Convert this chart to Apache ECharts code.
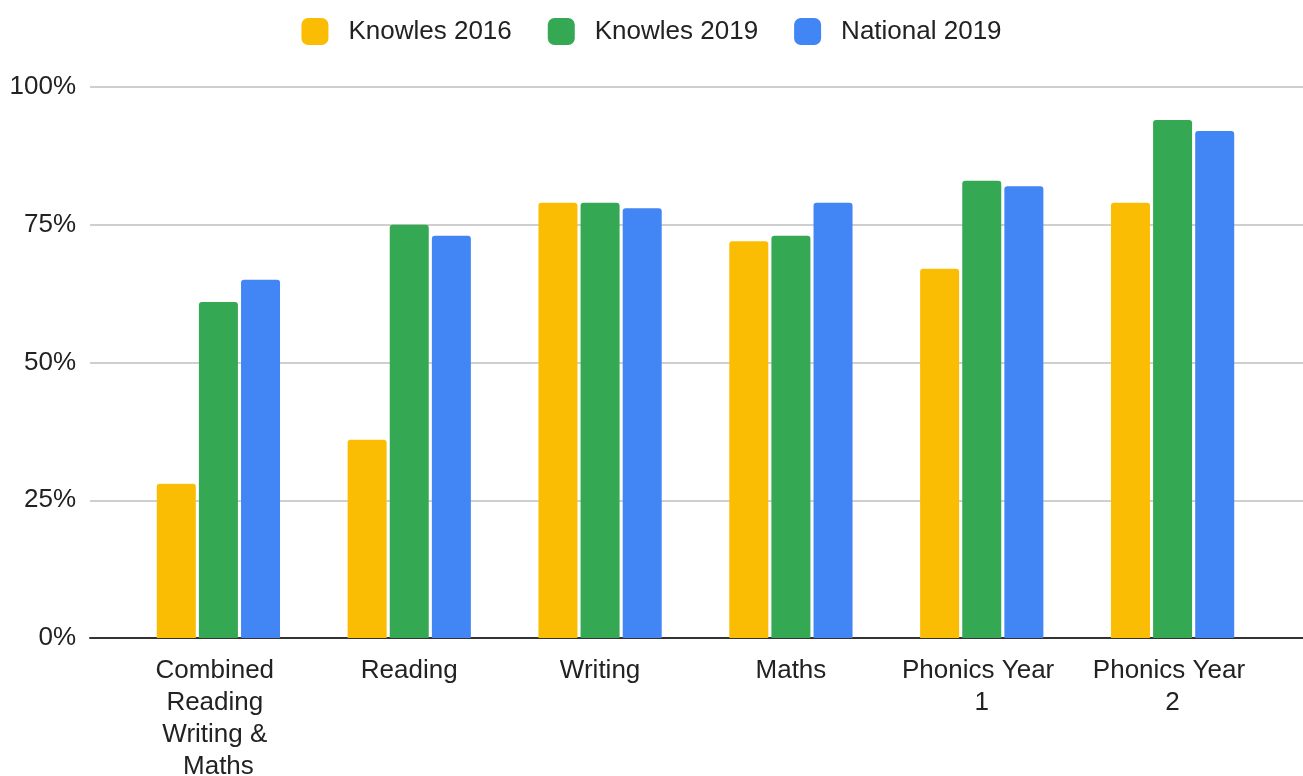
<!DOCTYPE html>
<html>
<head>
<meta charset="utf-8">
<script src="https://cdn.jsdelivr.net/npm/echarts@6/dist/echarts.min.js"></script>
<style>
  html, body { margin: 0; padding: 0; background: #fff; }
  #chart { width: 1303px; height: 776px; }
</style>
</head>
<body>
<div id="chart"></div>
<script>
// results by subject, percentages
var categories = ['Combined Reading Writing & Maths', 'Reading', 'Writing', 'Maths', 'Phonics Year 1', 'Phonics Year 2'];
var knowles2016 = [28, 36, 79, 72, 67, 79];
var knowles2019 = [61, 75, 79, 73, 83, 94];
var national2019 = [65, 73, 78, 79, 82, 92];
var yTicks = [0, 25, 50, 75, 100];

var chart = echarts.init(document.getElementById('chart'));
var font = '"Liberation Sans", Arial, sans-serif';

function barSeries(name, data, color) {
    return {
        name: name,
        type: 'bar',
        xAxisIndex: 1,
        yAxisIndex: 1,
        data: data,
        barWidth: 39,
        barGap: '8%',
        itemStyle: { color: color, borderRadius: [3, 3, 0, 0] }
    };
}

var option = {
    animation: false,
    textStyle: { fontFamily: font },
    color: ['#fbbc04', '#34a853', '#4285f4'],
    legend: {
        top: 13,
        left: 'center',
        icon: 'roundRect',
        itemWidth: 27,
        itemHeight: 27,
        itemGap: 36,
        textStyle: { fontSize: 26, color: '#222', fontFamily: font, padding: [0, 0, 0, 15] },
        data: ['Knowles 2016', 'Knowles 2019', 'National 2019']
    },
    grid: [
        // gridlines + y labels span the full width
        { left: 90, right: 0, top: 87, bottom: 138, outerBoundsMode: 'none' },
        // bars sit in a narrower band
        { left: 123, right: 35, top: 87, bottom: 138, outerBoundsMode: 'none' }
    ],
    xAxis: [{
        gridIndex: 0,
        type: 'value',
        min: 0,
        max: 1,
        axisLabel: { show: false },
        axisTick: { show: false },
        splitLine: { show: false },
        axisLine: { show: true, lineStyle: { color: '#333', width: 2 } }
    }, {
        gridIndex: 1,
        type: 'category',
        data: categories,
        axisLine: { show: false },
        axisTick: { show: false },
        axisLabel: {
            interval: 0,
            fontSize: 26,
            color: '#222',
            margin: 17,
            lineHeight: 32,
            width: 165,
            overflow: 'break'
        }
    }],
    yAxis: [{
        gridIndex: 0,
        type: 'value',
        min: yTicks[0],
        max: yTicks[yTicks.length - 1],
        interval: 25,
        axisLine: { show: false },
        axisTick: { show: false },
        axisLabel: { fontSize: 26, color: '#222', margin: 14, formatter: '{value}%' },
        splitLine: { lineStyle: { color: '#cfcfcf', width: 2 } }
    }, {
        gridIndex: 1,
        type: 'value',
        min: 0,
        max: 100,
        show: false
    }],
    series: [
        barSeries('Knowles 2016', knowles2016, '#fbbc04'),
        barSeries('Knowles 2019', knowles2019, '#34a853'),
        barSeries('National 2019', national2019, '#4285f4')
    ]
};
chart.setOption(option);
</script>
</body>
</html>
